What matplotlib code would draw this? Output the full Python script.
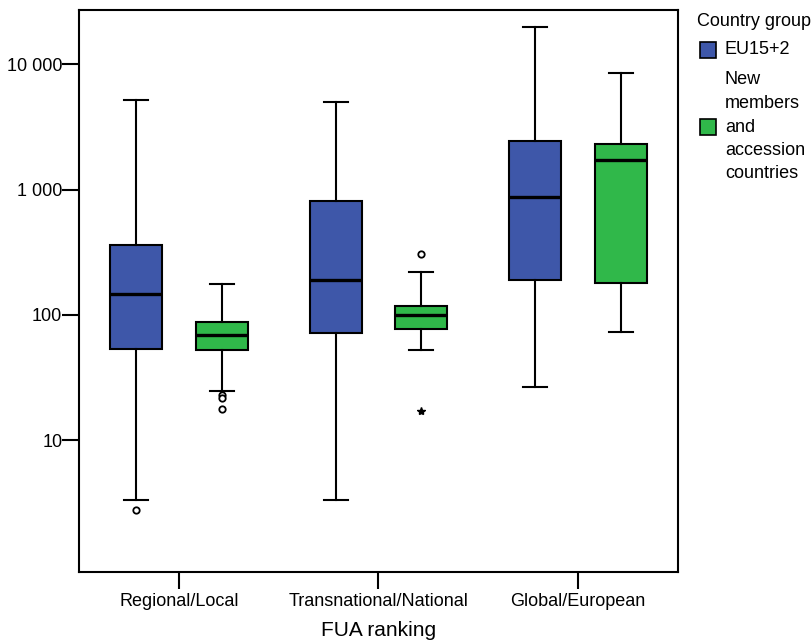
import matplotlib
matplotlib.use("Agg")
import matplotlib.pyplot as plt
from matplotlib.patches import Rectangle
from matplotlib.ticker import FixedLocator, FixedFormatter, NullLocator

plt.rcParams['font.family'] = ['Liberation Sans', 'DejaVu Sans']

# ---------------- data ----------------
categories = ["Regional/Local", "Transnational/National", "Global/European"]
group_labels = ["EU15+2", "New\nmembers\nand\naccession\ncountries"]
legend_title = "Country group"
x_label = "FUA ranking"
y_ticks = [10, 100, 1000, 10000]
y_tick_labels = ["10", "100", "1 000", "10 000"]

eu_whislo = [3.3, 3.3, 26.4]
eu_q1 = [53.6, 71.6, 190]
eu_med = [145.5, 190, 873]
eu_q3 = [361, 811, 2440]
eu_whishi = [5210, 5010, 20000]
eu_outliers = [[2.78], [], []]
eu_extremes = [[], [], []]

nm_whislo = [24.5, 52.6, 73.3]
nm_q1 = [52.4, 77, 179]
nm_med = [69, 99, 1710]
nm_q3 = [87.5, 117.5, 2300]
nm_whishi = [176, 218, 8530]
nm_outliers = [[22.9, 21.8, 17.7], [306], []]
nm_extremes = [[], [17.1], []]

# ---------------- style ----------------
BLUE = "#3E57A9"
GREEN = "#30B84A"
LW = 1.5
FS = 13

fig = plt.figure(figsize=(8.12, 6.44), dpi=100)
ax = fig.add_axes([79/812, 72/644, (678-79)/812, (572-10)/644])

series = [
    (eu_whislo, eu_q1, eu_med, eu_q3, eu_whishi, eu_outliers, eu_extremes, BLUE, -0.215),
    (nm_whislo, nm_q1, nm_med, nm_q3, nm_whishi, nm_outliers, nm_extremes, GREEN, 0.215),
]

for wl, q1, med, q3, wh, outl, extr, col, off in series:
    stats = []
    for i in range(len(categories)):
        stats.append(dict(whislo=wl[i], q1=q1[i], med=med[i], q3=q3[i],
                          whishi=wh[i], fliers=outl[i]))
    pos = [i + off for i in range(len(categories))]
    ax.bxp(stats, positions=pos, widths=0.26, capwidths=0.12,
           patch_artist=True, showfliers=True,
           boxprops=dict(facecolor=col, edgecolor="black", linewidth=LW),
           medianprops=dict(color="black", linewidth=2.4),
           whiskerprops=dict(color="black", linewidth=LW),
           capprops=dict(color="black", linewidth=LW),
           flierprops=dict(marker="o", markerfacecolor="white",
                           markeredgecolor="black", markersize=4.6,
                           markeredgewidth=1.3, linestyle="none"))
    for i, ex in enumerate(extr):
        if ex:
            ax.plot([i + off] * len(ex), ex, linestyle="none", marker="*",
                    color="black", markersize=6)

ax.set_yscale("log")
ax.set_ylim(0.883, 27200)
ax.set_xlim(-0.5, 2.5)

ax.yaxis.set_major_locator(FixedLocator(y_ticks))
ax.yaxis.set_major_formatter(FixedFormatter(y_tick_labels))
ax.yaxis.set_minor_locator(NullLocator())
ax.set_xticks(range(len(categories)))
ax.set_xticklabels(categories)

ax.tick_params(axis="y", length=12, width=LW, pad=0, labelsize=FS, colors="black")
ax.tick_params(axis="x", length=12, width=LW, pad=3, labelsize=FS, colors="black")
for sp in ax.spines.values():
    sp.set_linewidth(LW)
    sp.set_color("black")

ax.set_xlabel(x_label, fontsize=15)
ax.xaxis.set_label_coords(0.5, (572 - 630) / 562)
ax.xaxis.label.set_va("center")

# ---------------- legend ----------------
fig.text(697/812, 1 - 22/644, legend_title, ha="left", va="center", fontsize=FS)
fig.patches.append(Rectangle((700/812, 1 - 58/644), 16/812, 16/644,
                             transform=fig.transFigure, facecolor=BLUE,
                             edgecolor="black", linewidth=1.2))
fig.text(725/812, 1 - 50/644, group_labels[0], ha="left", va="center", fontsize=FS)
fig.patches.append(Rectangle((700/812, 1 - 135/644), 16/812, 16/644,
                             transform=fig.transFigure, facecolor=GREEN,
                             edgecolor="black", linewidth=1.2))
fig.text(725/812, 1 - 127/644, group_labels[1], ha="left", va="center",
         fontsize=FS, linespacing=1.5)

fig.savefig("out.png", dpi=100)
